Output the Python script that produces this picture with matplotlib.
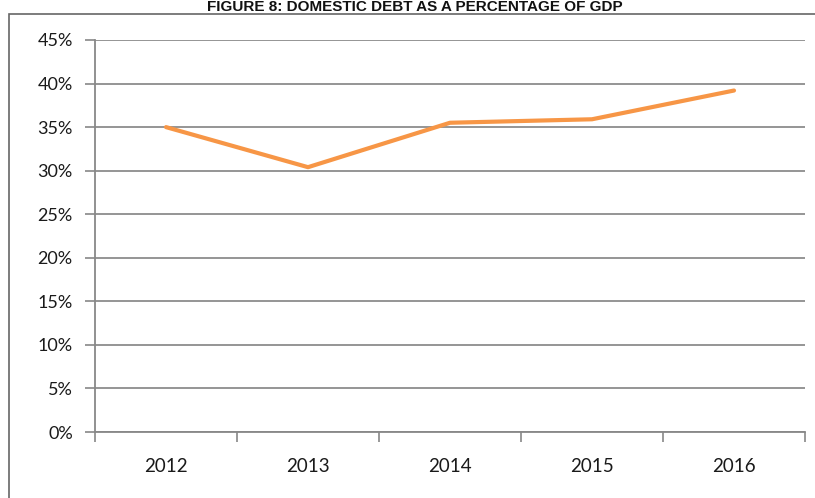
import matplotlib.pyplot as plt
from matplotlib.patches import Rectangle

years = ["2012", "2013", "2014", "2015", "2016"]
debt_pct = [35.0, 30.4, 35.5, 35.9, 39.2]
y_ticks = [0, 5, 10, 15, 20, 25, 30, 35, 40, 45]

W, H = 815, 498
fig = plt.figure(figsize=(W / 100, H / 100), dpi=100)
ax = fig.add_axes([95 / W, 1 - 432 / H, (805 - 95) / W, (432 - 40) / H])

x = list(range(len(years)))
ax.plot(x, debt_pct, color="#F79646", lw=3, solid_capstyle="round", zorder=3)

ax.set_xlim(-0.5, len(years) - 0.5)
ax.set_ylim(0, 45)
ax.set_yticks(y_ticks)
ax.set_yticklabels([f"{v}%" for v in y_ticks], fontsize=13, family="Lato", color="#1a1a1a")
ax.set_xticks(x)
ax.set_xticklabels(years, fontsize=13.5, family="Lato", color="#1a1a1a")
ax.tick_params(axis="x", length=0, pad=19)
ax.tick_params(axis="y", length=7, color="#888888", width=1.2, pad=9)
# category boundary ticks
ax.set_xticks([i - 0.5 for i in range(len(years) + 1)], minor=True)
ax.tick_params(axis="x", which="minor", length=7, color="#888888", width=1.2)

ax.grid(axis="y", color="#8c8c8c", lw=1.3)
ax.set_axisbelow(True)
for s in ["top", "right"]:
    ax.spines[s].set_visible(False)
for s in ["left", "bottom"]:
    ax.spines[s].set_color("#888888")
    ax.spines[s].set_linewidth(1.3)

# outer chart frame
fig.patches.append(Rectangle((9 / W, -0.1), 1.1, 1 - 14 / H + 0.1, transform=fig.transFigure,
                             fill=False, edgecolor="#666666", lw=1.2))

fig.text(415 / W, 1.0, "FIGURE 8: DOMESTIC DEBT AS A PERCENTAGE OF GDP",
         ha="center", va="top", fontsize=11, fontweight="bold",
         family="Liberation Sans", color="#111111")

fig.savefig("out.png", dpi=100)
